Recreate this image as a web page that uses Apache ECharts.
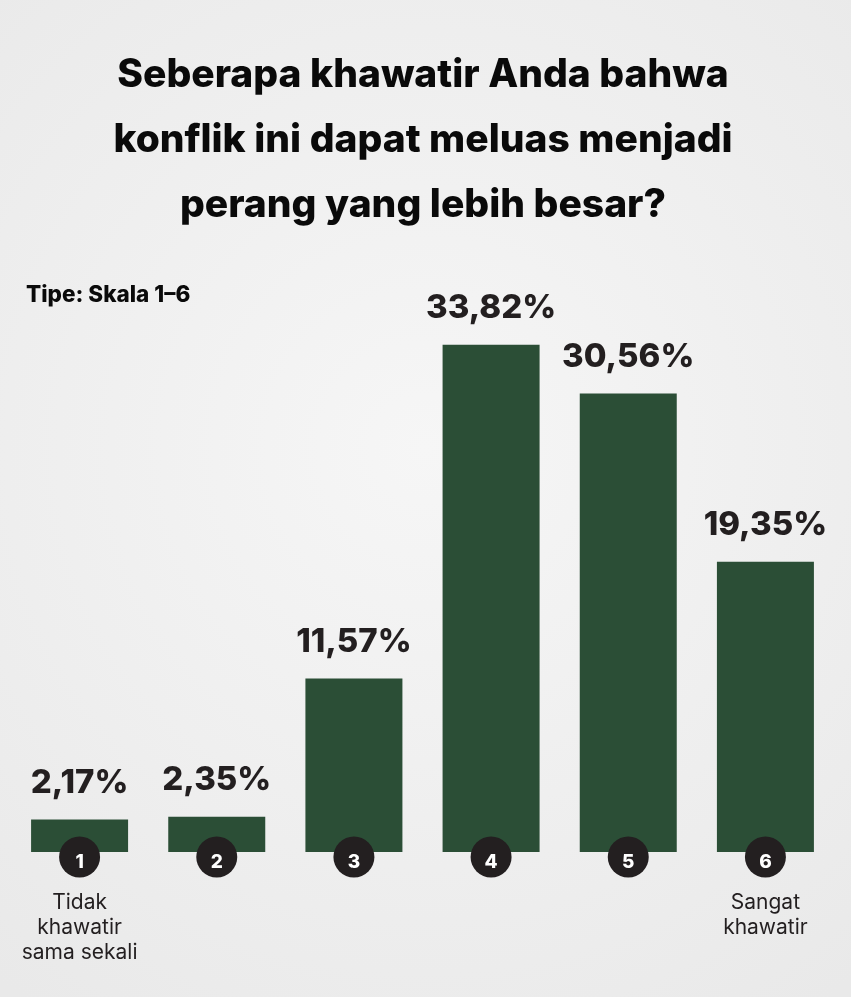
<!DOCTYPE html>
<html>
<head>
<meta charset="utf-8">
<script src="https://cdn.jsdelivr.net/npm/echarts@6/dist/echarts.min.js"></script>
<style>
html,body{margin:0;padding:0;background:#efefef;}
#chart{width:851px;height:997px;}
</style>
</head>
<body>
<div id="chart"></div>
<script>
const categories = ['1', '2', '3', '4', '5', '6'];
const values = [2.17, 2.35, 11.57, 33.82, 30.56, 19.35];
const valueLabels = ['2,17%', '2,35%', '11,57%', '33,82%', '30,56%', '19,35%'];
const scaleLabels = ['Tidak\nkhawatir\nsama sekali', '', '', '', '', 'Sangat\nkhawatir'];
const titleText = 'Seberapa khawatir Anda bahwa\nkonflik ini dapat meluas menjadi\nperang yang lebih besar?';
const subtitleText = 'Tipe: Skala 1–6';

const chart = echarts.init(document.getElementById('chart'));
const FONT = 'Inter';
chart.setOption({
  backgroundColor: {
    type: 'radial', x: 0.5, y: 0.45, r: 0.8,
    colorStops: [{offset: 0, color: '#f6f6f6'}, {offset: 1, color: '#e9e9e9'}]
  },
  animation: false,
  graphic: [{
    type: 'text',
    x: 423,
    y: 43,
    style: {
      text: titleText,
      align: 'center',
      verticalAlign: 'top',
      fontFamily: FONT, fontWeight: 800, fontSize: 39, lineHeight: 65, fill: '#0a0a0a'
    }
  }, {
    type: 'text',
    left: 26,
    top: 284,
    style: {
      text: subtitleText,
      fontFamily: FONT, fontWeight: 800, fontSize: 22.5, fill: '#0a0a0a'
    }
  }],
  grid: {left: 11, right: 17, top: 252, bottom: 145},
  xAxis: {
    type: 'category',
    data: categories,
    axisLine: {show: false},
    axisTick: {show: false},
    axisLabel: {
      interval: 0,
      margin: 38,
      fontFamily: FONT,
      fontSize: 21,
      lineHeight: 25,
      color: '#231f20',
      formatter: (v, i) => scaleLabels[i]
    }
  },
  yAxis: {
    type: 'value',
    min: 0,
    max: 40,
    show: false
  },
  series: [{
    type: 'bar',
    data: values,
    barWidth: 97,
    itemStyle: {color: '#2b4e36'},
    label: {
      show: true,
      position: 'top',
      distance: 20,
      fontFamily: FONT,
      fontWeight: 800,
      fontSize: 33,
      color: '#231f20',
      formatter: p => valueLabels[p.dataIndex]
    }
  }, {
    type: 'scatter',
    data: categories.map(() => 0),
    symbol: 'circle',
    symbolSize: 41,
    symbolOffset: [0, 5],
    itemStyle: {color: '#231f20', opacity: 1},
    z: 5,
    label: {
      show: true,
      position: 'inside',
      offset: [0, 5],
      fontFamily: FONT,
      fontWeight: 800,
      fontSize: 19,
      color: '#ffffff',
      formatter: p => categories[p.dataIndex]
    }
  }]
});
</script>
</body>
</html>
